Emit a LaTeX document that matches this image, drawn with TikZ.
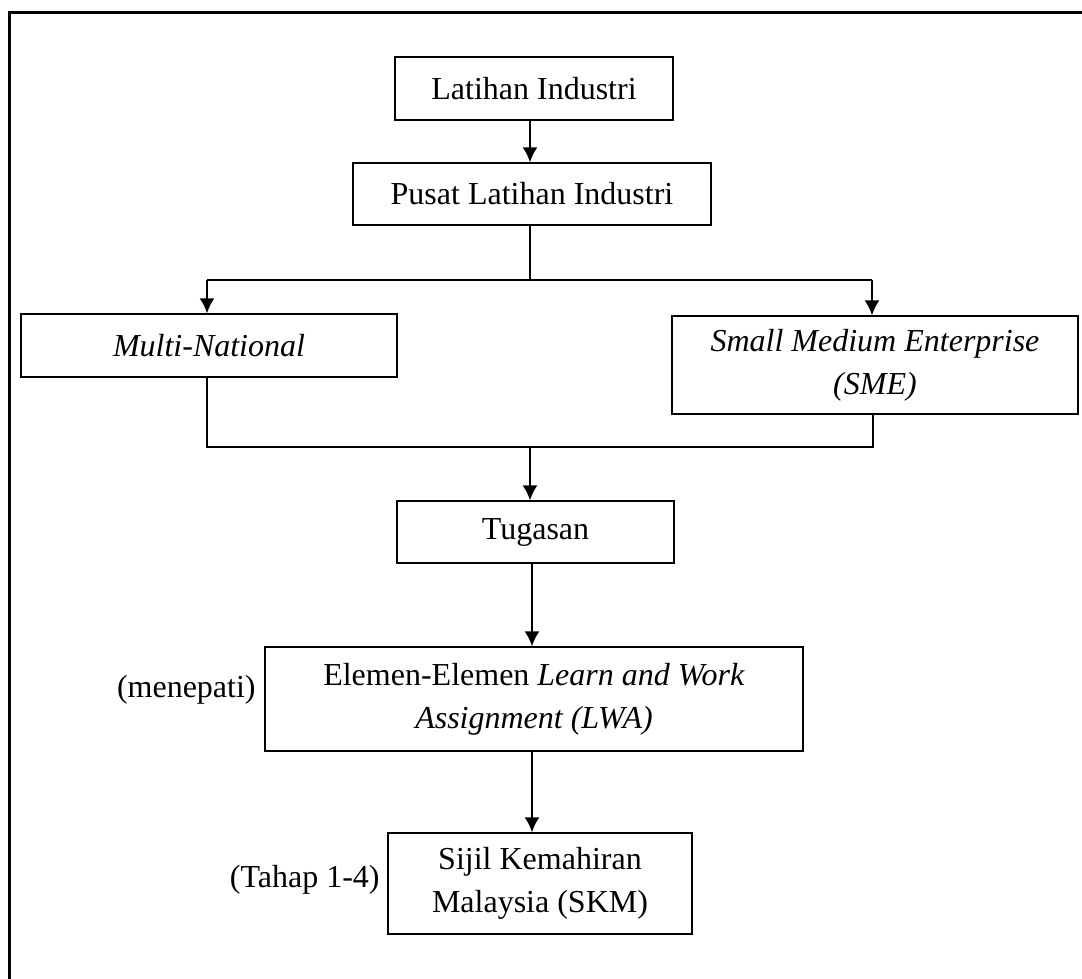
\documentclass[tikz,border=0pt]{standalone}
\usepackage{fontspec}
\setmainfont{Liberation Serif}
\usetikzlibrary{arrows.meta}
\begin{document}
\begin{tikzpicture}[x=0.5pt,y=-0.5pt,
  box/.style={draw, line width=0.55pt, inner sep=0pt, align=center, font=\fontsize{16}{21.5}\selectfont},
  lbl/.style={inner sep=0pt, font=\fontsize{16}{21.5}\selectfont},
  arr/.style={line width=1.2pt, -{Latex[length=7.5pt,width=7.5pt]}},
  thin/.style={line width=0.6pt},
  merge/.style={line width=1pt}]
\useasboundingbox (0,0) rectangle (1082,979);
% outer frame
\draw[line width=1.5pt] (1090,12.5) -- (9,12.5) -- (9,990);

\node[box, minimum width=139pt, minimum height=31.5pt] (L1) at (534,88.5) {Latihan Industri};
\node[box, minimum width=179pt, minimum height=31pt] (P) at (532,194) {Pusat Latihan Industri};
\node[box, minimum width=188pt, minimum height=31.5pt] (M) at (209,345.5) {\itshape Multi-National};
\node[box, minimum width=203pt, minimum height=49pt] (S) at (875,365) {\itshape Small Medium Enterprise\\\itshape (SME)};
\node[box, minimum width=138.5pt, minimum height=31pt] (T) at (535.5,532) {Tugasan};
\node[box, minimum width=269pt, minimum height=52pt] (E) at (534,699) {Elemen-Elemen \textit{Learn and Work}\\\textit{Assignment (LWA)}};
\node[box, minimum width=152pt, minimum height=50.5pt] (K) at (540,883.5) {Sijil Kemahiran\\Malaysia (SKM)};

\node[lbl, anchor=east] (men) at (256,690) {(menepati)};
\node[lbl, anchor=east] (tah) at (380,880) {(Tahap 1-4)};

% top arrow
\draw[arr] (530,120) coordinate (a1) -- (a1 |- P.north);
% branch
\coordinate (pb) at (530,225);
\coordinate (bc) at (530,280);
\coordinate (bl) at (207,280);
\coordinate (br) at (872,280);
\draw[thin] (pb) -- (bc);
\draw[thin] (bl) -- (br);
\draw[arr] (bl) -- (bl |- M.north);
\draw[arr] (br) -- (br |- S.north);
% merge
\coordinate (ml) at (207,447);
\coordinate (mr) at (873,447);
\coordinate (mc) at (530,447);
\draw[merge] (ml |- M.south) -- (ml) -- (mr) -- (mr |- S.south);
\draw[arr] (mc) -- (mc |- T.north);
% lower arrows
\coordinate (t1) at (532,563);
\draw[arr] (t1) -- (t1 |- E.north);
\coordinate (e1) at (532,751);
\draw[arr] (e1) -- (e1 |- K.north);
\end{tikzpicture}
\end{document}
